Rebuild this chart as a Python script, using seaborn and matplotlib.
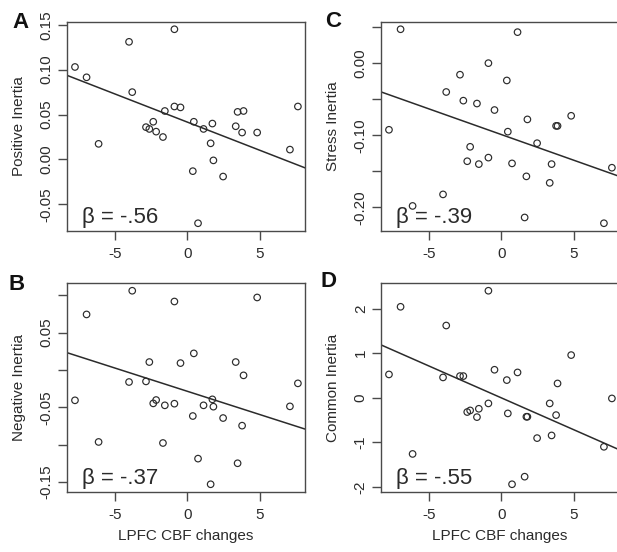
import numpy as np
import matplotlib
matplotlib.use("Agg")
import matplotlib.pyplot as plt
import seaborn as sns

# Change in LPFC cerebral blood flow for each participant
lpfc_cbf = [-7.75, -6.95, -6.12, -4.02, -3.80, -2.85, -2.62, -2.35, -2.15, -1.68,
            -1.55, -0.89, -0.89, -0.47, 0.38, 0.45, 0.74, 1.12, 1.61, 1.73,
            1.80, 2.47, 3.34, 3.47, 3.78, 3.88, 4.82, 7.08, 7.63]

# Emotional inertia measures, same participant order
positive_inertia = [0.103, 0.0915, 0.0174, 0.131, 0.075, 0.036, 0.034, 0.042, 0.031, 0.025,
                    0.054, 0.145, 0.059, 0.058, -0.013, 0.042, -0.071, 0.034, 0.018, 0.040,
                    -0.001, -0.019, 0.037, 0.053, 0.030, 0.054, 0.030, 0.011, 0.059]
negative_inertia = [-0.0406, 0.0743, -0.0963, -0.0161, 0.106, -0.0153, 0.0106, -0.0447, -0.0402, -0.0977,
                    -0.0473, 0.0916, -0.0451, 0.0092, -0.0616, 0.0222, -0.1186, -0.0473, -0.1529, -0.0393,
                    -0.0491, -0.0643, 0.0106, -0.1248, -0.0745, -0.0072, 0.097, -0.0487, -0.0179]
stress_inertia = [-0.0924, 0.047, -0.198, -0.182, -0.040, -0.016, -0.052, -0.136, -0.116, -0.056,
                  -0.140, 0.000, -0.131, -0.065, -0.024, -0.095, -0.139, 0.043, -0.214, -0.157,
                  -0.078, -0.111, -0.166, -0.140, -0.087, -0.087, -0.073, -0.222, -0.145]
common_inertia = [0.523, 2.04, -1.26, 0.456, 1.62, 0.486, 0.486, -0.32, -0.284, -0.434,
                  -0.247, 2.40, -0.127, 0.628, 0.396, -0.351, -1.94, 0.568, -1.77, -0.426,
                  -0.426, -0.905, -0.127, -0.845, -0.389, 0.321, 0.957, -1.10, -0.015]

# Standardized regression coefficients
betas = {"A": -0.56, "B": -0.37, "C": -0.39, "D": -0.55}
beta_labels = {"A": "β = -.56", "B": "β = -.37", "C": "β = -.39", "D": "β = -.55"}

panel_letters = ["A", "B", "C", "D"]
y_titles = {"A": "Positive Inertia", "B": "Negative Inertia",
            "C": "Stress Inertia", "D": "Common Inertia"}
x_title = "LPFC CBF changes"

x_ticks = [-5, 0, 5]
x_tick_labels = ["-5", "0", "5"]

y_ticks = {
    "A": [-0.05, 0.00, 0.05, 0.10, 0.15],
    "B": [-0.15, -0.10, -0.05, 0.00, 0.05, 0.10],
    "C": [-0.20, -0.15, -0.10, -0.05, 0.00, 0.05],
    "D": [-2, -1, 0, 1, 2],
}
y_tick_labels = {
    "A": ["-0.05", "0.00", "0.05", "0.10", "0.15"],
    "B": ["-0.15", "", "-0.05", "", "0.05", ""],
    "C": ["-0.20", "", "-0.10", "", "0.00", ""],
    "D": ["-2", "-1", "0", "1", "2"],
}
series = {"A": positive_inertia, "B": negative_inertia,
          "C": stress_inertia, "D": common_inertia}

sns.set_theme(style="ticks")
plt.rcParams["font.family"] = ["Liberation Sans", "DejaVu Sans"]

INK = "#2b2b2b"
FRAME = "#4a4a4a"
XLIM = (-8.3, 8.12)


def padded(values, frac=0.04):
    lo, hi = min(values), max(values)
    r = hi - lo
    return lo - frac * r, hi + frac * r


W, H = 617, 552
fig = plt.figure(figsize=(W / 100, H / 100), dpi=100)
fig.patch.set_facecolor("white")

# axes boxes in pixel units: (left, top, right, bottom)
boxes = {
    "A": (67, 21.5, 305, 231),
    "B": (67, 283, 305, 492),
    "C": (381, 21.5, 619, 231),
    "D": (381, 283, 619, 492),
}
letter_pos = {"A": (12, 28), "B": (9, 290), "C": (325, 27), "D": (320, 287)}

for key in panel_letters:
    l, t, r, b = boxes[key]
    ax = fig.add_axes([l / W, (H - b) / H, (r - l) / W, (b - t) / H])
    ax.set_facecolor("white")
    y = np.asarray(series[key])
    x = np.asarray(lpfc_cbf)

    ax.set_xlim(*XLIM)
    ax.set_ylim(*padded(series[key]))

    sns.scatterplot(x=x, y=y, ax=ax, marker="o", s=22,
                    facecolor="none", edgecolor=INK, linewidth=0.85)

    # fitted line from the standardized coefficient
    slope = betas[key] * y.std() / x.std()
    intercept = y.mean() - slope * x.mean()
    lx = np.array(XLIM)
    sns.lineplot(x=lx, y=intercept + slope * lx, ax=ax, color=INK, linewidth=1.1)

    ax.set_xticks(x_ticks, x_tick_labels)
    ax.set_yticks(y_ticks[key], y_tick_labels[key], rotation=90, va="center")
    ax.tick_params(axis="both", length=6.5, width=1.0, color=FRAME,
                   labelsize=11, labelcolor=INK)
    ax.tick_params(axis="x", pad=5)
    ax.tick_params(axis="y", pad=3)
    for s in ax.spines.values():
        s.set_color(FRAME)
        s.set_linewidth(1.0)
        s.set_visible(True)

    ax.set_ylabel(y_titles[key], fontsize=11, color=INK)
    ax.yaxis.set_label_coords((26 - 67) / 238, 0.5)
    if key in ("B", "D"):
        ax.set_xlabel(x_title, fontsize=11, color=INK)
        ax.xaxis.set_label_coords(0.5, -0.175)
    else:
        ax.set_xlabel("")

    ax.text(0.062, 0.036, beta_labels[key], transform=ax.transAxes,
            fontsize=16, color=INK, ha="left", va="baseline")

    lxp, lyp = letter_pos[key]
    fig.text(lxp / W, (H - lyp) / H, key, fontsize=16, fontweight="bold",
             color="#111111", ha="left", va="baseline")

fig.savefig("out.png", dpi=100, facecolor="white")
